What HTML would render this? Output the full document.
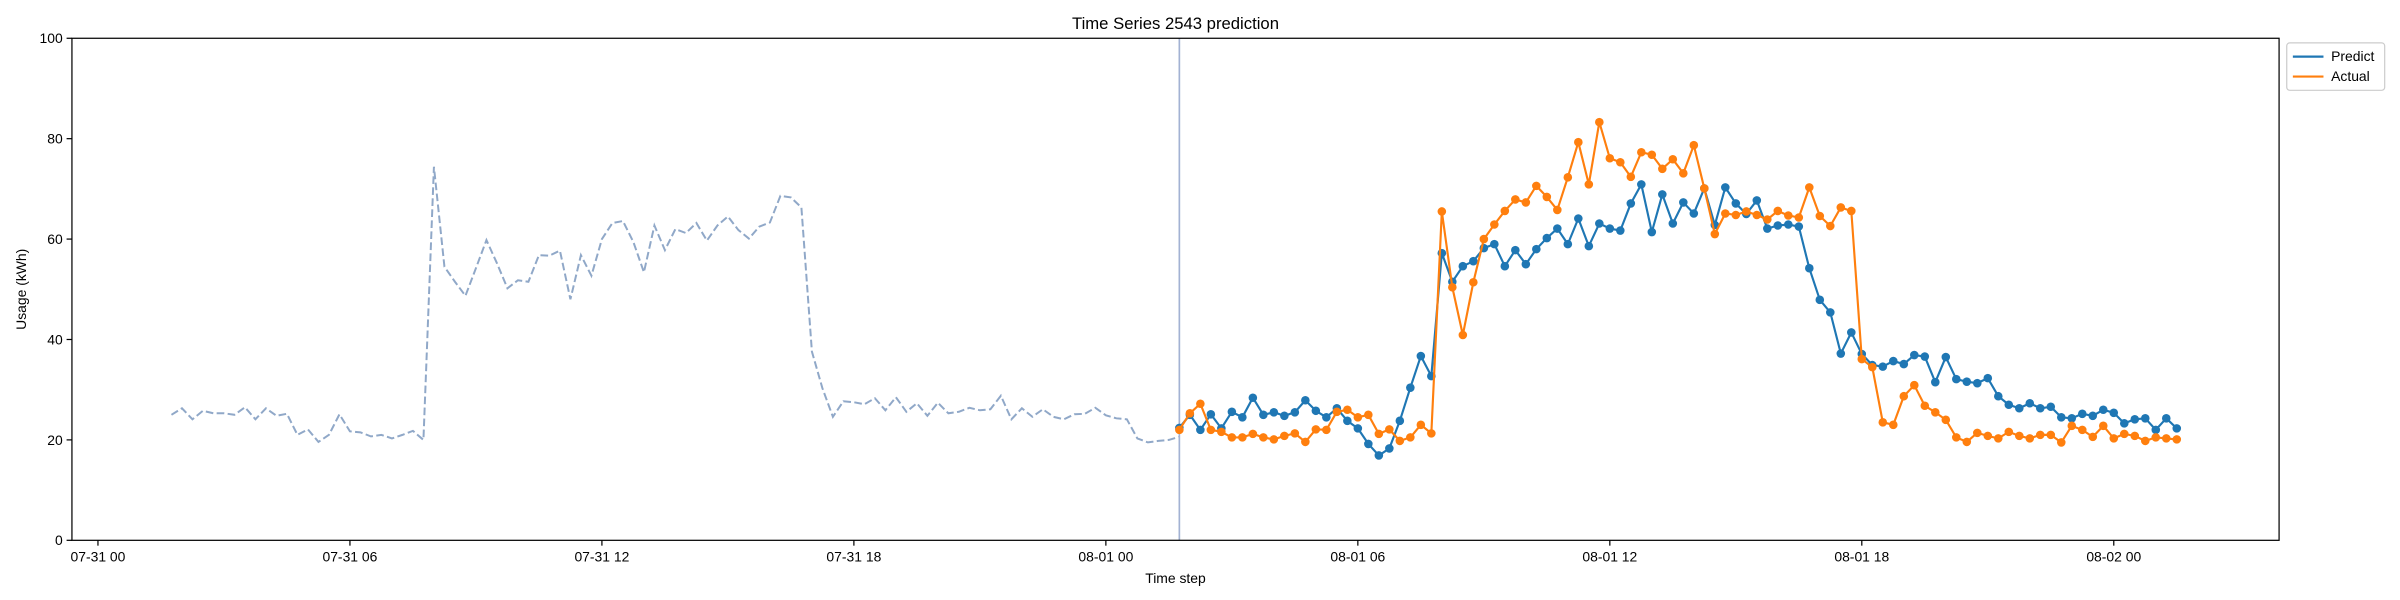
<!DOCTYPE html>
<html><head><meta charset="utf-8"><style>
html,body{margin:0;padding:0;background:#fff;}
svg{display:block;font-family:"Liberation Sans","DejaVu Sans",sans-serif;}
</style></head><body>
<svg id="chart" width="2400" height="600" viewBox="0 0 1568 392" xmlns="http://www.w3.org/2000/svg">
<rect x="0" y="0" width="1568" height="392" fill="#fff"/>
<text x="768" y="19" font-size="10.9" text-anchor="middle" fill="#000">Time Series 2543 prediction</text>
<g id="plot"></g>
<rect x="47" y="25" width="1442" height="328" fill="none" stroke="#000" stroke-width="0.8"/>
<g id="yticks"></g><g id="xticks"></g>
<text x="0" y="0" font-size="9.1" text-anchor="middle" transform="translate(17,189) rotate(-90)">Usage (kWh)</text>
<text x="768" y="381" font-size="9.1" text-anchor="middle">Time step</text>
<g>
<rect x="1494" y="28" width="64" height="31" fill="#fff" stroke="#ccc" stroke-width="0.8" rx="2"/>
<g><line x1="1498" y1="37" x2="1518" y2="37" stroke="#1f77b4" stroke-width="1.4"/><text x="1523" y="40" font-size="9.1">Predict</text></g>
<g><line x1="1498" y1="50" x2="1518" y2="50" stroke="#ff7f0e" stroke-width="1.4"/><text x="1523" y="53" font-size="9.1">Actual</text></g>
</g>
</svg>
<script>
const histStart = 1.75;
const predStart = 25.75;
const stepHours = 0.25;
const history = [25.0,26.3,24.1,25.8,25.3,25.3,25.0,26.5,24.1,26.3,24.8,25.2,21.0,22.1,19.6,21.0,25.1,21.7,21.5,20.7,21.0,20.3,21.0,21.8,20.0,74.4,54.5,51.5,48.7,54.2,59.8,55.2,50.2,51.8,51.5,56.8,56.7,57.7,48.0,56.8,52.7,60.0,63.2,63.6,59.4,53.4,62.7,57.8,62.0,61.2,63.2,59.7,62.7,64.5,61.8,60.1,62.5,63.3,68.6,68.3,66.3,37.6,30.3,24.6,27.7,27.5,27.1,28.3,25.9,28.5,25.6,27.3,24.8,27.4,25.3,25.6,26.4,25.9,26.1,28.8,24.1,26.3,24.6,26.1,24.6,24.1,25.1,25.2,26.4,24.9,24.3,24.1,20.3,19.5,19.8,20.0,20.6];
const predict = [22.4,25.0,22.0,25.1,22.3,25.6,24.5,28.4,25.0,25.5,24.8,25.5,27.9,25.8,24.5,26.3,23.8,22.3,19.2,16.9,18.3,23.8,30.4,36.7,32.7,57.2,51.5,54.6,55.6,58.2,59.0,54.6,57.8,55.0,58.0,60.2,62.1,59.0,64.1,58.6,63.1,62.1,61.7,67.1,70.9,61.4,68.9,63.1,67.3,65.1,70.1,62.8,70.3,67.1,65.0,67.7,62.1,62.7,62.9,62.5,54.2,47.9,45.4,37.2,41.4,37.1,34.9,34.6,35.7,35.1,36.9,36.6,31.5,36.5,32.1,31.6,31.3,32.3,28.7,27.0,26.3,27.3,26.3,26.6,24.5,24.3,25.2,24.8,26.0,25.4,23.3,24.1,24.3,22.0,24.3,22.3];
const actual = [22.0,25.3,27.2,22.0,21.6,20.5,20.5,21.2,20.5,20.1,20.8,21.3,19.6,22.1,22.0,25.6,26.0,24.5,25.0,21.2,22.1,19.8,20.5,23.0,21.3,65.5,50.4,40.9,51.4,60.0,62.9,65.6,67.9,67.3,70.6,68.4,65.8,72.3,79.3,70.9,83.3,76.1,75.3,72.4,77.3,76.8,74.0,75.9,73.1,78.7,70.1,61.0,65.1,64.8,65.5,64.8,63.9,65.6,64.7,64.3,70.3,64.6,62.6,66.3,65.6,36.1,34.5,23.5,23.0,28.7,30.9,26.8,25.5,24.0,20.5,19.6,21.4,20.8,20.3,21.6,20.8,20.3,21.0,21.0,19.5,22.8,22.0,20.6,22.8,20.3,21.2,20.8,19.8,20.5,20.3,20.1];
const yTicks = [0,20,40,60,80,100];
const xTickHours = [0,6,12,18,24,30,36,42,48];
const xTickLabels = ["07-31 00","07-31 06","07-31 12","07-31 18","08-01 00","08-01 06","08-01 12","08-01 18","08-02 00"];

const NS = "http://www.w3.org/2000/svg";
const X = h => 64 + h * (1317 / 48);
const Y = v => 353 - v * 3.28;
function mk(tag, attrs, parent){const e=document.createElementNS(NS,tag);for(const k in attrs)e.setAttribute(k,attrs[k]);parent.appendChild(e);return e;}
const plot = document.getElementById('plot');
const yt = document.getElementById('yticks');
const xt = document.getElementById('xticks');

yTicks.forEach(v=>{
  const g=mk('g',{},yt);
  
  
  mk('line',{x1:43.5,x2:47,y1:Y(v),y2:Y(v),stroke:'#000','stroke-width':0.8},g);
  const t=mk('text',{x:41,y:Y(v)+3.2,'font-size':9.1,'text-anchor':'end'},g);t.textContent=v;
});
xTickHours.forEach((h,i)=>{
  const g=mk('g',{},xt);
  
  
  mk('line',{x1:X(h),x2:X(h),y1:353,y2:356.5,stroke:'#000','stroke-width':0.8},g);
  const t=mk('text',{x:X(h),y:367,'font-size':9.1,'text-anchor':'middle'},g);t.textContent=xTickLabels[i];
});

const pts = (arr,start)=>arr.map((v,i)=>X(start+i*stepHours).toFixed(2)+','+Y(v).toFixed(2)).join(' ');

const hl=mk('polyline',{points:pts(history,histStart),fill:'none',stroke:'#90a8c8','stroke-width':1.3,'stroke-dasharray':'5,2.2'},plot);



const vl=mk('line',{x1:X(predStart),x2:X(predStart),y1:25,y2:353,stroke:'#a3b2d3','stroke-width':1.1},plot);



function series(arr,color,name){
  const g=mk('g',{},plot);
  
  
  const l=mk('polyline',{points:pts(arr,predStart),fill:'none',stroke:color,'stroke-width':1.4,'stroke-linejoin':'round'},g);
  
  
  arr.forEach((v,i)=>{
    const c=mk('circle',{cx:X(predStart+i*stepHours),cy:Y(v),r:2.8,fill:color},g);
    
    
  });
}
series(predict,'#1f77b4','predict');
series(actual,'#ff7f0e','actual');
</script>
</body></html>
